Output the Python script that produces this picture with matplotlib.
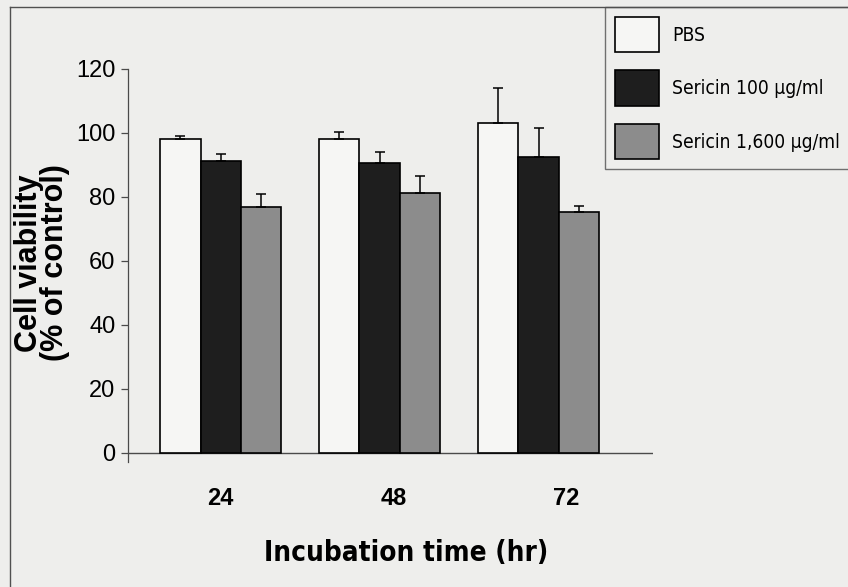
import matplotlib
matplotlib.use("Agg")
import os
import matplotlib.pyplot as plt
import matplotlib.transforms as mtransforms
import matplotlib.font_manager as fm
from matplotlib.lines import Line2D
import numpy as np

# ---- data ----
times = ["24", "48", "72"]
series = ["PBS", "Sericin 100 \u03bcg/ml", "Sericin 1,600 \u03bcg/ml"]
pbs = [98.0, 98.0, 103.0]
pbs_err = [1.0, 2.2, 11.0]
ser100 = [91.2, 90.5, 92.4]
ser100_err = [2.0, 3.4, 9.0]
ser1600 = [76.9, 81.3, 75.1]
ser1600_err = [3.9, 5.3, 2.1]
yticks = [0, 20, 40, 60, 80, 100, 120]

values = [pbs, ser100, ser1600]
errors = [pbs_err, ser100_err, ser1600_err]
faces = ["#f6f6f4", "#1e1e1e", "#8c8c8c"]


# ---- fonts: fixed files ----
def find_file(pred):
    for f in fm.fontManager.ttflist:
        if pred(f):
            return f
    return None


def is_bold(f):
    return f.weight in ("bold", 700, "700") or "Bold" in os.path.basename(f.fname)


def is_plain(f):
    b = os.path.basename(f.fname)
    return "Italic" not in b and "Oblique" not in b and f.style == "normal"


reg = find_file(lambda f: f.name == "Liberation Sans" and is_plain(f) and not is_bold(f)
                and "Narrow" not in f.fname)
regb = find_file(lambda f: f.name == "Liberation Sans" and is_plain(f) and is_bold(f)
                 and "Narrow" not in f.fname)


def cond_pred(bold):
    def p(f):
        b = os.path.basename(f.fname)
        if "Mono" in b or "Serif" in b or not is_plain(f):
            return False
        if is_bold(f) != bold:
            return False
        return ("Narrow" in b or "Condensed" in b or "Narrow" in f.name
                or "Condensed" in f.name)
    return p


cands = [f for f in fm.fontManager.ttflist if cond_pred(False)(f)]
candsb = [f for f in fm.fontManager.ttflist if cond_pred(True)(f)]
pref = ["Liberation", "Arial", "DejaVu", "Roboto", "Open", "Noto", "Lato", ""]


def pick(lst):
    for p in pref:
        for f in lst:
            if p in os.path.basename(f.fname):
                return f
    return None


cnd = pick(cands) or reg
cndb = pick(candsb) or regb


def FP(f, fallback_weight="normal"):
    if f is None:
        return fm.FontProperties(family="DejaVu Sans", weight=fallback_weight)
    return fm.FontProperties(fname=f.fname)


P_REG, P_REGB, P_CND, P_CNDB = FP(reg), FP(regb, "bold"), FP(cnd), FP(cndb, "bold")

BG = "#eeeeec"
W, H = 848, 587
fig = plt.figure(figsize=(W / 100, H / 100), dpi=100, facecolor=BG)
renderer = fig.canvas.get_renderer()


def fit_size(txt, target_px, max_pt, min_pt):
    size = max_pt
    txt.set_fontsize(size)
    while txt.get_window_extent(renderer).width > target_px and size > min_pt:
        size -= 0.25
        txt.set_fontsize(size)
    return size


def sized(p, s):
    q = p.copy()
    q.set_size(s)
    return q


# page frame (scan border)
fig.add_artist(Line2D([10 / W, 10 / W], [0, 1 - 7 / H], transform=fig.transFigure,
                      color="#505050", lw=1.0))
fig.add_artist(Line2D([10 / W, 1], [1 - 7 / H, 1 - 7 / H], transform=fig.transFigure,
                      color="#505050", lw=1.0))

ax = fig.add_axes([128 / W, 1 - 462.3 / H, (653 - 128) / W, (462.3 - 68.7) / H])
ax.set_facecolor("none")

x = np.arange(len(times))
bw = 0.252
offsets = [-bw, 0, bw]
for vals, errs, fc, off, lab in zip(values, errors, faces, offsets, series):
    ax.bar(x + off, vals, width=bw, color=fc, edgecolor="black", linewidth=1.2,
           label=lab, zorder=2)
    ax.errorbar(x + off, vals, yerr=[np.zeros(len(errs)), errs], fmt="none",
                ecolor="black", elinewidth=1.1, capsize=3.5, capthick=1.1, zorder=3)

ax.set_xlim(-0.582, 2.72)
ax.set_ylim(-3, 120)
ax.axhline(0, color="#4a4a4a", lw=1.0, zorder=1)

for s in ["top", "right", "bottom"]:
    ax.spines[s].set_visible(False)
ax.spines["left"].set_color("#4a4a4a")
ax.spines["left"].set_linewidth(0.9)

ax.set_yticks(yticks)
ax.set_yticklabels([str(v) for v in yticks], fontproperties=sized(P_REG, 17))
ax.tick_params(axis="y", direction="out", length=5, width=0.9, color="#4a4a4a", pad=4)

ax.set_xticks(x)
ax.set_xticklabels(times, fontproperties=sized(P_REGB, 17))
ax.tick_params(axis="x", length=0, pad=18)
label_shift_px = [0, 14, 28]
for lbl, dx in zip(ax.get_xticklabels(), label_shift_px):
    lbl.set_transform(lbl.get_transform() + mtransforms.Affine2D().translate(dx, 0))

xl = fig.text(406 / W, 1 - 553 / H, "Incubation time (hr)", fontproperties=sized(P_CNDB, 24),
              ha="center", va="center")
fit_size(xl, 262, 24, 20)

fig.text(42 / W, 1 - 263 / H, "Cell viability\n(% of control)",
         fontproperties=sized(P_REGB, 22), rotation=90, ha="center", va="center",
         linespacing=0.85, multialignment="center")

# legend font size: longest label should end near the right edge
probe = fig.text(0, 0, max(series, key=len), fontproperties=sized(P_CND, 16))
fs = fit_size(probe, 168, 16, 10)
probe.remove()
fs_px = fs * 100 / 72.0

leg = ax.legend(loc="upper left", bbox_to_anchor=(605 / W, 1 - 7 / H),
                bbox_transform=fig.transFigure, borderaxespad=0, prop=sized(P_CND, fs),
                handlelength=44 / fs_px, handleheight=36 / (fs_px * 0.76),
                labelspacing=18 / fs_px, handletextpad=13 / fs_px,
                borderpad=10 / fs_px, frameon=True, fancybox=False)
leg.get_frame().set_facecolor(BG)
leg.get_frame().set_edgecolor("#505050")
leg.get_frame().set_linewidth(1.0)

fig.savefig("out.png", dpi=100, facecolor=BG)
